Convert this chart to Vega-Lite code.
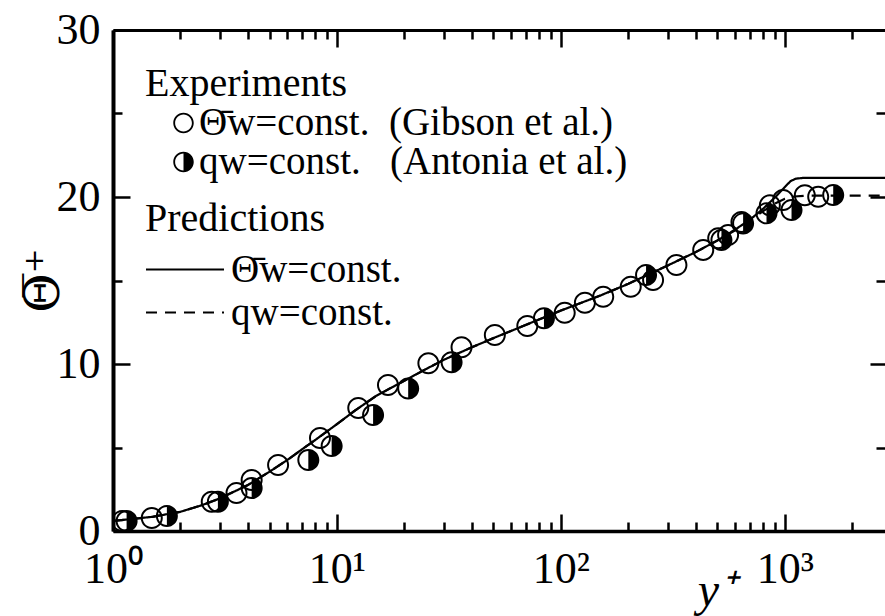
{
  "$schema": "https://vega.github.io/schema/vega-lite/v6.json",
  "width": 772,
  "height": 501,
  "autosize": {"type": "none"},
  "padding": {"left": 113, "top": 30, "right": 0, "bottom": 85},
  "background": "white",
  "config": {"font": "Liberation Serif", "view": {"stroke": null}, "axis": {"grid": false}},
  "datasets": {
    "curves": [
      {"yp": 1, "T": 0.6, "model": "theta"}, {"yp": 1.5, "T": 0.85, "model": "theta"}, {"yp": 2, "T": 1.15, "model": "theta"},
      {"yp": 2.5, "T": 1.55, "model": "theta"}, {"yp": 3, "T": 1.95, "model": "theta"}, {"yp": 4, "T": 2.75, "model": "theta"},
      {"yp": 5, "T": 3.55, "model": "theta"}, {"yp": 6, "T": 4.25, "model": "theta"}, {"yp": 7, "T": 4.9, "model": "theta"},
      {"yp": 8, "T": 5.45, "model": "theta"}, {"yp": 10, "T": 6.4, "model": "theta"}, {"yp": 12, "T": 7.2, "model": "theta"},
      {"yp": 15, "T": 8.1, "model": "theta"}, {"yp": 20, "T": 9.0, "model": "theta"}, {"yp": 25, "T": 9.7, "model": "theta"},
      {"yp": 30, "T": 10.25, "model": "theta"}, {"yp": 40, "T": 11.0, "model": "theta"}, {"yp": 50, "T": 11.55, "model": "theta"},
      {"yp": 70, "T": 12.35, "model": "theta"}, {"yp": 100, "T": 13.2, "model": "theta"}, {"yp": 150, "T": 14.1, "model": "theta"},
      {"yp": 200, "T": 14.8, "model": "theta"}, {"yp": 300, "T": 15.9, "model": "theta"}, {"yp": 400, "T": 16.7, "model": "theta"},
      {"yp": 500, "T": 17.4, "model": "theta"}, {"yp": 600, "T": 18.05, "model": "theta"}, {"yp": 700, "T": 18.65, "model": "theta"},
      {"yp": 800, "T": 19.3, "model": "theta"}, {"yp": 900, "T": 19.95, "model": "theta"}, {"yp": 1000, "T": 20.6, "model": "theta"},
      {"yp": 1060, "T": 20.95, "model": "theta"}, {"yp": 1120, "T": 21.1, "model": "theta"}, {"yp": 1200, "T": 21.14, "model": "theta"},
      {"yp": 2800, "T": 21.14, "model": "theta"},
      {"yp": 1, "T": 0.6, "model": "q"}, {"yp": 1.5, "T": 0.85, "model": "q"}, {"yp": 2, "T": 1.15, "model": "q"},
      {"yp": 2.5, "T": 1.55, "model": "q"}, {"yp": 3, "T": 1.95, "model": "q"}, {"yp": 4, "T": 2.75, "model": "q"},
      {"yp": 5, "T": 3.55, "model": "q"}, {"yp": 6, "T": 4.25, "model": "q"}, {"yp": 7, "T": 4.9, "model": "q"},
      {"yp": 8, "T": 5.45, "model": "q"}, {"yp": 10, "T": 6.4, "model": "q"}, {"yp": 12, "T": 7.2, "model": "q"},
      {"yp": 15, "T": 8.1, "model": "q"}, {"yp": 20, "T": 9.0, "model": "q"}, {"yp": 25, "T": 9.7, "model": "q"},
      {"yp": 30, "T": 10.25, "model": "q"}, {"yp": 40, "T": 11.0, "model": "q"}, {"yp": 50, "T": 11.55, "model": "q"},
      {"yp": 70, "T": 12.35, "model": "q"}, {"yp": 100, "T": 13.2, "model": "q"}, {"yp": 150, "T": 14.1, "model": "q"},
      {"yp": 200, "T": 14.8, "model": "q"}, {"yp": 300, "T": 15.9, "model": "q"}, {"yp": 400, "T": 16.7, "model": "q"},
      {"yp": 500, "T": 17.4, "model": "q"}, {"yp": 600, "T": 18.0, "model": "q"}, {"yp": 700, "T": 18.6, "model": "q"},
      {"yp": 800, "T": 19.15, "model": "q"}, {"yp": 900, "T": 19.6, "model": "q"}, {"yp": 1000, "T": 19.9, "model": "q"},
      {"yp": 1100, "T": 20.03, "model": "q"}, {"yp": 1250, "T": 20.08, "model": "q"}, {"yp": 2800, "T": 20.08, "model": "q"}
    ],
    "points": [
      {"yp": 1.1, "T": 0.6, "series": "gibson"}, {"yp": 1.49, "T": 0.78, "series": "gibson"}, {"yp": 2.76, "T": 1.75, "series": "gibson"},
      {"yp": 3.56, "T": 2.27, "series": "gibson"}, {"yp": 4.16, "T": 3.05, "series": "gibson"}, {"yp": 5.46, "T": 3.95, "series": "gibson"},
      {"yp": 8.4, "T": 5.57, "series": "gibson"}, {"yp": 12.45, "T": 7.36, "series": "gibson"}, {"yp": 16.9, "T": 8.74, "series": "gibson"},
      {"yp": 25.6, "T": 10.04, "series": "gibson"}, {"yp": 36, "T": 11.0, "series": "gibson"}, {"yp": 50.7, "T": 11.74, "series": "gibson"},
      {"yp": 70.8, "T": 12.28, "series": "gibson"}, {"yp": 104, "T": 13.07, "series": "gibson"}, {"yp": 128, "T": 13.67, "series": "gibson"},
      {"yp": 154.5, "T": 14.03, "series": "gibson"}, {"yp": 205, "T": 14.63, "series": "gibson"}, {"yp": 258, "T": 15.03, "series": "gibson"},
      {"yp": 328, "T": 15.93, "series": "gibson"}, {"yp": 432, "T": 16.83, "series": "gibson"}, {"yp": 504, "T": 17.53, "series": "gibson"},
      {"yp": 558, "T": 17.72, "series": "gibson"}, {"yp": 640, "T": 18.5, "series": "gibson"}, {"yp": 857, "T": 19.5, "series": "gibson"},
      {"yp": 982, "T": 19.82, "series": "gibson"}, {"yp": 1228, "T": 20.1, "series": "gibson"}, {"yp": 1409, "T": 20.02, "series": "gibson"},
      {"yp": 1.15, "T": 0.6, "series": "antonia"}, {"yp": 1.74, "T": 0.9, "series": "antonia"}, {"yp": 2.94, "T": 1.75, "series": "antonia"},
      {"yp": 4.16, "T": 2.57, "series": "antonia"}, {"yp": 7.45, "T": 4.25, "series": "antonia"}, {"yp": 9.47, "T": 5.09, "series": "antonia"},
      {"yp": 14.5, "T": 6.95, "series": "antonia"}, {"yp": 20.8, "T": 8.54, "series": "antonia"}, {"yp": 32.5, "T": 10.1, "series": "antonia"},
      {"yp": 84, "T": 12.74, "series": "antonia"}, {"yp": 240, "T": 15.33, "series": "antonia"}, {"yp": 521, "T": 17.43, "series": "antonia"},
      {"yp": 651, "T": 18.42, "series": "antonia"}, {"yp": 828, "T": 19.02, "series": "antonia"}, {"yp": 1071, "T": 19.22, "series": "antonia"},
      {"yp": 1644, "T": 20.12, "series": "antonia"}
    ]
  },
  "layer": [
    {
      "data": {"name": "curves"},
      "mark": {"type": "line", "color": "black", "strokeWidth": 2.2, "clip": true},
      "encoding": {
        "x": {
          "field": "yp", "type": "quantitative",
          "scale": {"type": "log", "domain": [1, 2800]},
          "axis": {
            "orient": "bottom", "title": "y⁺", "titleFont": "Liberation Serif", "titleFontStyle": "italic",
            "titleFontSize": 48, "titleFontWeight": "normal", "titleColor": "black",
            "titleX": 603, "titleY": 74, "titleBaseline": "alphabetic", "titleAlign": "center",
            "values": [1,2,3,4,5,6,7,8,9,10,20,30,40,50,60,70,80,90,100,200,300,400,500,600,700,800,900,1000,2000],
            "labelExpr": "datum.value==1?'10⁰':datum.value==10?'10¹':datum.value==100?'10²':datum.value==1000?'10³':''",
            "labelFont": "Liberation Serif", "labelFontSize": 44, "labelColor": "black", "labelPadding": 33,
            "labelFlush": false, "labelOverlap": false, "labelBound": false,
            "tickSize": {"condition": {"test": "datum.value==1||datum.value==10||datum.value==100||datum.value==1000", "value": -17}, "value": -9},
            "tickColor": "black", "tickWidth": 2.5, "domainColor": "black", "domainWidth": 3.5
          }
        },
        "y": {
          "field": "T", "type": "quantitative",
          "scale": {"domain": [0, 30]},
          "axis": {
            "orient": "left", "title": "Θ̅⁺", "titleFont": "DejaVu Serif", "titleFontSize": 48,
            "titleFontWeight": "normal", "titleColor": "black", "titleAngle": 270,
            "titleX": -55, "titleY": 250, "titleBaseline": "alphabetic", "titleAlign": "center",
            "values": [0,5,10,15,20,25,30],
            "labelExpr": "datum.value%10==0 ? datum.label : ''",
            "labelFont": "Liberation Serif", "labelFontSize": 44, "labelColor": "black", "labelPadding": 30,
            "labelOverlap": false, "labelBound": false, "labelFlush": false,
            "tickSize": {"condition": {"test": "datum.value%10==0", "value": -17}, "value": -9},
            "tickColor": "black", "tickWidth": 2.5, "domainColor": "black", "domainWidth": 4
          }
        },
        "strokeDash": {
          "field": "model", "type": "nominal",
          "scale": {"domain": ["theta", "q"], "range": [[1, 0], [11, 8]]},
          "legend": {
            "title": "Predictions", "orient": "none", "legendX": 32, "legendY": 169, "padding": 0,
            "titleFont": "Liberation Serif", "titleFontSize": 40, "titleFontWeight": "normal", "titleColor": "black",
            "titlePadding": 9, "titleLimit": 400,
            "labelFont": "Liberation Serif", "labelFontSize": 39, "labelColor": "black", "labelLimit": 0,
            "labelOffset": 6,
            "labelExpr": "datum.value=='theta' ? 'Θ̄w=const.' : 'qw=const.'",
            "symbolType": "stroke", "symbolSize": 6084, "symbolStrokeWidth": 2, "symbolStrokeColor": "black",
            "symbolOffset": 0, "rowPadding": 0, "clipHeight": 43
          }
        }
      }
    },
    {
      "data": {"name": "points"},
      "mark": {"type": "point", "filled": true, "color": "black", "strokeWidth": 0, "size": 484, "opacity": 1, "clip": true},
      "encoding": {
        "x": {
          "field": "yp", "type": "quantitative",
          "scale": {"type": "log", "domain": [1, 2800]},
          "axis": {
            "orient": "top", "title": null, "labels": false,
            "values": [1,2,3,4,5,6,7,8,9,10,20,30,40,50,60,70,80,90,100,200,300,400,500,600,700,800,900,1000,2000],
            "tickSize": {"condition": {"test": "datum.value==1||datum.value==10||datum.value==100||datum.value==1000", "value": -17}, "value": -9},
            "tickColor": "black", "tickWidth": 2.5, "domainColor": "black", "domainWidth": 3
          }
        },
        "y": {
          "field": "T", "type": "quantitative",
          "scale": {"domain": [0, 30]},
          "axis": {
            "orient": "right", "title": null, "labels": false, "domain": false,
            "values": [0,5,10,15,20,25,30],
            "tickSize": {"condition": {"test": "datum.value%10==0", "value": -15}, "value": -9},
            "tickColor": "black", "tickWidth": 2.5
          }
        },
        "shape": {
          "field": "series", "type": "nominal",
          "scale": {
            "domain": ["gibson", "antonia"],
            "range": [
              "M0,-1A1,1,0,1,1,0,1A1,1,0,1,1,0,-1ZM0,-0.82A0.82,0.82,0,1,0,0,0.82A0.82,0.82,0,1,0,0,-0.82Z",
              "M0,-1A1,1,0,1,1,0,1A1,1,0,1,1,0,-1ZM0,-0.82A0.82,0.82,0,0,0,0,0.82Z"
            ]
          },
          "legend": {
            "title": "Experiments", "orient": "none", "legendX": 32, "legendY": 34, "padding": 0,
            "titleFont": "Liberation Serif", "titleFontSize": 40, "titleFontWeight": "normal", "titleColor": "black",
            "titlePadding": 4, "titleLimit": 400,
            "labelFont": "Liberation Serif", "labelFontSize": 39, "labelColor": "black", "labelLimit": 0,
            "labelOffset": -4,
            "labelExpr": "datum.value=='gibson' ? 'Θ̄w=const. \u00a0(Gibson et al.)' : 'qw=const. \u00a0\u00a0(Antonia et al.)'",
            "symbolSize": 420, "symbolStrokeWidth": 0, "symbolFillColor": "black", "symbolOpacity": 1,
            "symbolOffset": 19, "rowPadding": 0, "clipHeight": 30
          }
        }
      }
    }
  ],
  "resolve": {"axis": {"x": "independent", "y": "independent"}}
}
